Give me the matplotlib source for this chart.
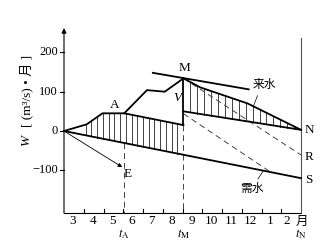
import numpy as np
import matplotlib.pyplot as plt

plt.rcParams['mathtext.fontset'] = 'stix'
SERIF = ['Liberation Serif', 'Noto Sans CJK SC']
CJK = ['Noto Sans CJK SC']

months = ['3', '4', '5', '6', '7', '8', '9', '10', '11', '12', '1', '2']
yticks = [200, 100, 0, -100]
t_A, t_M, t_N = 3.05, 6.05, 12.0

# inflow mass curve (来水): 0 -> A -> M -> N
inflow_x = [0, 1.15, 1.95, 3.05, 4.2, 5.1, 6.05, 6.9, 9.3, 12.0]
inflow_y = [0, 17, 45, 45, 104, 100, 134, 111, 70, 3]
# demand line (需水): 0 -> S
demand_x = [0, 12.0]
demand_y = [0, -120]
# line from A parallel to demand
apar_x = [3.05, 6.05]
apar_y = [45, 15]
# lower edge of hatched area after t_M
vlow_x = [6.05, 12.0]
vlow_y = [50, 3]
# tangent through M
tan_x = [4.5, 9.35]
tan_y = [148, 106]
# dashed lines towards R and S
dr_x = [6.05, 12.0]
dr_y = [134, -61]
ds_x = [6.05, 10.46]
ds_y = [44, -104.6]
# arrow towards E
e_x, e_y = 2.95, -92

fig = plt.figure(figsize=(3.33, 2.42), dpi=100)
ax = fig.add_axes([0, 0, 1, 1])
ax.set_xlim(-64 / 19.75, (333 - 64) / 19.75)
ax.set_ylim((131 - 242) / 0.393, 131 / 0.393)
ax.axis('off')

y_bot, y_top = -208.6, 262

# axes
ax.annotate('', xy=(0, y_top), xytext=(0, y_bot),
            arrowprops=dict(arrowstyle='-|>', lw=0.8, color='k',
                            mutation_scale=7, shrinkA=0, shrinkB=0))
ax.plot([0, 12], [y_bot, y_bot], color='k', lw=0.8)
ax.plot([12, 12], [y_bot, 237], color='#555', lw=0.8)
for v in yticks:
    ax.plot([-0.22, 0], [v, v], color='k', lw=0.8)
    ax.text(-0.3, v, str(v).replace('-', '\u2212'), ha='right', va='center',
            fontsize=9, family=SERIF)
for i in range(1, 12):
    ax.plot([i, i], [y_bot, y_bot + 10], color='k', lw=0.8)
for i, m in enumerate(months):
    xx = i + 0.45 if i < 11 else 11.3
    ax.text(xx, -229, m, ha='center', va='center', fontsize=9.5, family=SERIF)
ax.text(12.05, -229, '月', ha='center', va='center', fontsize=9, family=CJK)
for xx, s in [(t_A, 'A'), (t_M, 'M'), (t_N, 'N')]:
    ax.text(xx, -263, r'$t_{\rm %s}$' % s, ha='center', va='center', fontsize=9)

# y label
ax.text(-1.92, -23, 'W', rotation=90, ha='center', va='center', fontsize=9.5,
        family=SERIF, style='italic')
ax.text(-1.92, 101, '[ (m\u00b3/s) \u2022 月 ]', rotation=90, ha='center',
        va='center', fontsize=9.5, family=SERIF)

# hatching
def top1(x):
    return np.interp(x, [0, 1.15, 1.95, 3.05, 6.05], [0, 17, 45, 45, 15])

for x in np.arange(1.1, 6.0, 0.29):
    ax.plot([x, x], [top1(x), -10 * x], color='#333', lw=0.65)
for x in np.arange(6.4, 11.85, 0.35):
    ax.plot([x, x], [np.interp(x, inflow_x, inflow_y),
                     np.interp(x, vlow_x, vlow_y)], color='#333', lw=0.65)

# vertical guides
ax.plot([t_A, t_A], [-10 * t_A, y_bot], color='#444', lw=0.7, ls=(0, (6, 4)))
ax.plot([t_M, t_M], [15, y_bot], color='#444', lw=0.7, ls=(0, (6, 4)))
ax.plot([t_M, t_M], [15, 134], color='k', lw=1.3)

# dashed lines
ax.plot(dr_x, dr_y, color='#444', lw=0.7, ls=(0, (6, 4)))
ax.plot(ds_x, ds_y, color='#444', lw=0.7, ls=(0, (6, 4)))

# main lines
ax.plot(inflow_x, inflow_y, color='k', lw=1.3)
ax.plot(demand_x, demand_y, color='k', lw=1.3)
ax.plot(apar_x, apar_y, color='k', lw=1.3)
ax.plot(vlow_x, vlow_y, color='k', lw=1.3)
ax.plot(tan_x, tan_y, color='k', lw=1.3)
ax.annotate('', xy=(e_x, e_y), xytext=(0, 0),
            arrowprops=dict(arrowstyle='-|>', lw=0.6, color='k',
                            mutation_scale=6, shrinkA=0, shrinkB=0))

# labels
ax.text(2.58, 66, 'A', ha='center', va='center', fontsize=9.5, family=SERIF)
ax.text(6.08, 160, 'M', ha='center', va='center', fontsize=9.5, family=SERIF)
ax.text(5.72, 84, 'V', ha='center', va='center', fontsize=9.5, family=SERIF,
        style='italic')
ax.text(3.24, -109, 'E', ha='center', va='center', fontsize=9.5, family=SERIF)
ax.text(12.42, 3, 'N', ha='center', va='center', fontsize=9.5, family=SERIF)
ax.text(12.42, -66, 'R', ha='center', va='center', fontsize=9.5, family=SERIF)
ax.text(12.42, -124, 'S', ha='center', va='center', fontsize=9.5, family=SERIF)
ax.plot([9.58, 9.8], [62, 90], color='k', lw=0.5)
ax.text(10.14, 119, '来水', ha='center', va='center', fontsize=8.5, family=CJK)
ax.plot([10.1, 9.82], [-101, -122], color='k', lw=0.5)
ax.text(9.5, -145, '需水', ha='center', va='center', fontsize=8.5, family=CJK)

fig.savefig('out.png', dpi=100)
